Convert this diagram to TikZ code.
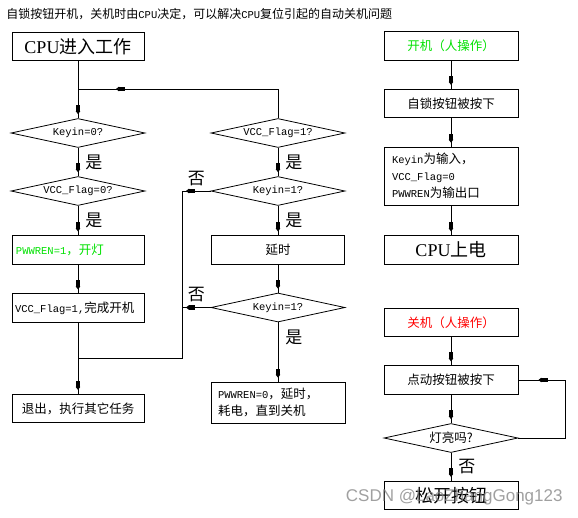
\documentclass[tikz,border=0pt]{standalone}
\usepackage{fontspec}
\setmainfont{Noto Sans CJK SC}
\newfontfamily\latinmono{Liberation Mono}
\newfontfamily\latinserif{Liberation Serif}
\newfontfamily\wmfont{Liberation Sans}
\newcommand{\asc}[1]{{\latinmono\fontsize{10.5}{17}\selectfont #1}}
\usetikzlibrary{shapes.geometric,arrows.meta,decorations.markings}
\definecolor{ongreen}{RGB}{0,225,0}
\definecolor{offred}{RGB}{255,0,0}
\tikzset{
  box/.style={draw,minimum width=132,minimum height=28.5,inner sep=0,
    font=\fontsize{12.5}{17}\selectfont},
  bigbox/.style={box,font=\fontsize{18}{20}\selectfont},
  decide/.style={diamond,draw,aspect=4.6,minimum width=134,minimum height=29,
    inner sep=0,font=\fontsize{12.5}{17}\selectfont},
  flow/.style={postaction={decorate},decoration={markings,
    mark=at position #1 with {\arrow{Rectangle[length=6pt,width=4.5pt,sep=0pt]
      Triangle[length=3pt,width=4.5pt]}}}},
  flow/.default=-4pt,
  lbl/.style={inner sep=1,font=\fontsize{17}{17}\selectfont},
}
\begin{document}
\begin{tikzpicture}[x=1pt,y=-1pt,line width=0.8pt]
  \useasboundingbox (0,0) rectangle (578,517);
  \node[anchor=west,inner sep=0,font=\fontsize{12}{14}\selectfont] (title) at (6,14)
    {自锁按钮开机，关机时由\asc{CPU}决定，可以解决\asc{CPU}复位引起的自动关机问题};
  % power on path, CPU side
  \node[bigbox] (start) at (78,46.5) {{\latinserif CPU}进入工作};
  \coordinate (j1) at (78,89);
  \node[decide] (k0) at (78,133) {\asc{Keyin=0?}};
  \node[decide] (f0) at (78,191) {\asc{VCC\_Flag=0?}};
  \node[box,align=left,text width=124,inner xsep=4,text=ongreen] (led) at (78,250)
    {\asc{PWWREN=1}，开灯};
  \node[box,align=left,text width=126,inner xsep=3] (done) at (78,308)
    {\asc{VCC\_Flag=1,}完成开机};
  \coordinate (j2) at (78,358);
  \coordinate (lx) at (182,358);
  \node[box] (quit) at (78,408.5) {退出，执行其它任务};
  % power off path, CPU side
  \node[decide] (f1) at (278,133) {\asc{VCC\_Flag=1?}};
  \node[decide] (k1) at (278,191) {\asc{Keyin=1?}};
  \node[box,minimum width=133] (wait) at (278,250) {延时};
  \node[decide] (k2) at (278,307.5) {\asc{Keyin=1?}};
  \node[box,minimum width=134,minimum height=41,align=left,text width=120,
    inner xsep=7] (off) at (278,402.5) {\asc{PWWREN=0}，延时，\\耗电，直到关机};
  \draw (start) -- (j1);
  \draw[flow] (j1) -- (k0);
  \draw[flow] (k0) -- node[lbl,right=6] {是} (f0);
  \draw[flow] (f0) -- node[lbl,right=6] {是} (led);
  \draw[flow] (led) -- (done);
  \draw (done) -- (j2);
  \draw[flow] (j2) -- (quit);
  \draw (f1) -- (f1 |- j1);
  \draw[flow=-38pt] (f1 |- j1) -- (j1);
  \draw[flow] (f1) -- node[lbl,right=6] {是} (k1);
  \draw[flow] (k1) -- node[lbl,right=6] {是} (wait);
  \draw[flow] (wait) -- (k2);
  \draw[flow] (k2) -- node[lbl,right=6,pos=0.25] {是} (off);
  \draw[flow] (k1) -- node[lbl,above=4] {否} (k1.west -| lx);
  \draw[flow] (k2) -- node[lbl,above=4] {否} (k2.west -| lx);
  \draw (k1.west -| lx) -- (lx) -- (j2);
  % user side
  \node[box,minimum width=134,text=ongreen] (on) at (451,46) {开机（人操作）};
  \node[box,minimum width=134] (lock) at (451,103.5) {自锁按钮被按下};
  \node[box,minimum width=134,minimum height=58,align=left,text width=118,
    inner xsep=8] (init) at (451,176)
    {\asc{Keyin}为输入，\\\asc{VCC\_Flag=0}\\\asc{PWWREN}为输出口};
  \node[bigbox,minimum width=134] (pwr) at (451,250) {{\latinserif CPU}上电};
  \node[box,minimum width=134,text=offred] (offh) at (451,322.5) {关机（人操作）};
  \node[box,minimum width=134] (press) at (451,380) {点动按钮被按下};
  \node[decide] (lamp) at (451,438) {灯亮吗?};
  \node[bigbox,minimum width=134] (rel) at (451,495.5) {松开按钮};
  \coordinate (rl) at (565,380);
  \draw[flow] (on) -- (lock);
  \draw[flow] (lock) -- (init);
  \draw[flow] (init) -- (pwr);
  \draw[flow] (offh) -- (press);
  \draw[flow] (press) -- (lamp);
  \draw[flow] (lamp) -- node[lbl,right=6] {否} (rel);
  \draw[flow=-20pt] (lamp.east) -| (rl) -- (press.east);
  \node[text=gray,opacity=0.75,font=\wmfont\fontsize{17}{17}\selectfont,
    anchor=east,inner sep=0] (wm) at (563,497) {CSDN @LaoZhangGong123};
\end{tikzpicture}
\end{document}
